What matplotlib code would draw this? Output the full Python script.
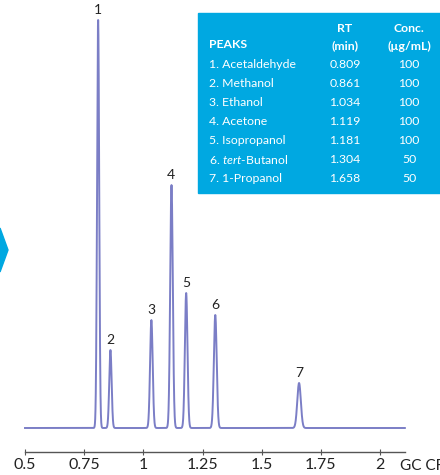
import matplotlib
matplotlib.use("Agg")
import matplotlib.pyplot as plt
from matplotlib.patches import Rectangle, Polygon
import numpy as np

plt.rcParams['font.family'] = ['Lato', 'DejaVu Sans']
plt.rcParams['mathtext.fontset'] = 'custom'
plt.rcParams['mathtext.rm'] = 'Lato'
plt.rcParams['mathtext.it'] = 'Lato:italic'

# peak data (retention time in min, height, width)
peak_no = ['1', '2', '3', '4', '5', '6', '7']
peak_names = ['Acetaldehyde', 'Methanol', 'Ethanol', 'Acetone', 'Isopropanol',
              r'$\it{tert}$-Butanol', '1-Propanol']
rt = [0.809, 0.861, 1.034, 1.119, 1.181, 1.304, 1.658]
rt_txt = ['0.809', '0.861', '1.034', '1.119', '1.181', '1.304', '1.658']
conc = ['100', '100', '100', '100', '100', '50', '50']
height = [408, 78, 108, 243, 135, 113, 45]
width = [0.0045, 0.005, 0.0055, 0.0055, 0.0055, 0.006, 0.0075]
xticks = [0.5, 0.75, 1, 1.25, 1.5, 1.75, 2]
xlabels = ['0.5', '0.75', '1', '1.25', '1.5', '1.75', '2']

W, H = 440, 475
fig = plt.figure(figsize=(W / 100, H / 100), dpi=100)

# x mapping: 0.5 -> 25 px, 2 -> 380 px
scale = (380 - 25) / 1.5
x0 = 0.5 - 25 / scale
x1 = x0 + W / scale

axis_y = 452
ax = fig.add_axes([0, (H - axis_y) / H, 1, axis_y / H])
ax.set_xlim(x0, x1)
ax.set_ylim(-24, axis_y - 24)

t = np.linspace(0.5, 2.105, 4000)
sig = np.zeros_like(t)
for r, h, w in zip(rt, height, width):
    sig += h * np.exp(-0.5 * ((t - r) / w) ** 2)
ax.plot(t, sig, color='#7b7ec6', lw=1.4, solid_joinstyle='round')

for n, r, h in zip(peak_no, rt, height):
    ax.text(r - 0.001, h + 4, n, ha='center', va='bottom', fontsize=10, color='#222222')

for s in ['top', 'left', 'right']:
    ax.spines[s].set_visible(False)
ax.spines['bottom'].set_bounds(0.5, 2.105)
ax.spines['bottom'].set_color('#555555')
ax.spines['bottom'].set_linewidth(1.0)
ax.set_yticks([])
ax.set_xticks(xticks)
ax.set_xticklabels(xlabels)
ax.tick_params(axis='x', direction='inout', length=4, width=0.8, color='#555555',
               labelsize=11.5, pad=2, labelcolor='#222222')
fig.text(400 / W, 1 - 466 / H, 'GC CF', fontsize=11, ha='left', va='center', color='#222222')

# table box
blue = '#00a8e1'
fig.patches.append(Rectangle((198 / W, 1 - 193 / H), (W - 198) / W, 180 / H,
                             transform=fig.transFigure, color=blue, zorder=5))
fs = 8.8
fig.text(209 / W, 1 - 45 / H, 'PEAKS', fontsize=fs, fontweight='bold', color='white',
         va='center', zorder=6)
fig.text(345 / W, 1 - 28 / H, 'RT', fontsize=fs, fontweight='bold', color='white',
         ha='center', va='center', zorder=6)
fig.text(345 / W, 1 - 46 / H, '(min)', fontsize=fs, fontweight='bold', color='white',
         ha='center', va='center', zorder=6)
fig.text(409 / W, 1 - 28 / H, 'Conc.', fontsize=fs, fontweight='bold', color='white',
         ha='center', va='center', zorder=6)
fig.text(409 / W, 1 - 46 / H, '(µg/mL)', fontsize=fs, fontweight='bold', color='white',
         ha='center', va='center', zorder=6)
for i in range(len(peak_no)):
    yy = 1 - (65 + i * 18.9) / H
    fig.text(209 / W, yy, peak_no[i] + '. ' + peak_names[i], fontsize=fs, color='white',
             va='center', zorder=6)
    fig.text(345 / W, yy, rt_txt[i], fontsize=fs, color='white', ha='center', va='center', zorder=6)
    fig.text(409 / W, yy, conc[i], fontsize=fs, color='white', ha='center', va='center', zorder=6)

# chevron at left edge
fig.patches.append(Polygon([(0, 1 - 228 / H), (8 / W, 1 - 250 / H), (0, 1 - 272 / H)],
                           closed=True, transform=fig.transFigure, color=blue, zorder=5))

fig.savefig('out.png', dpi=100)
